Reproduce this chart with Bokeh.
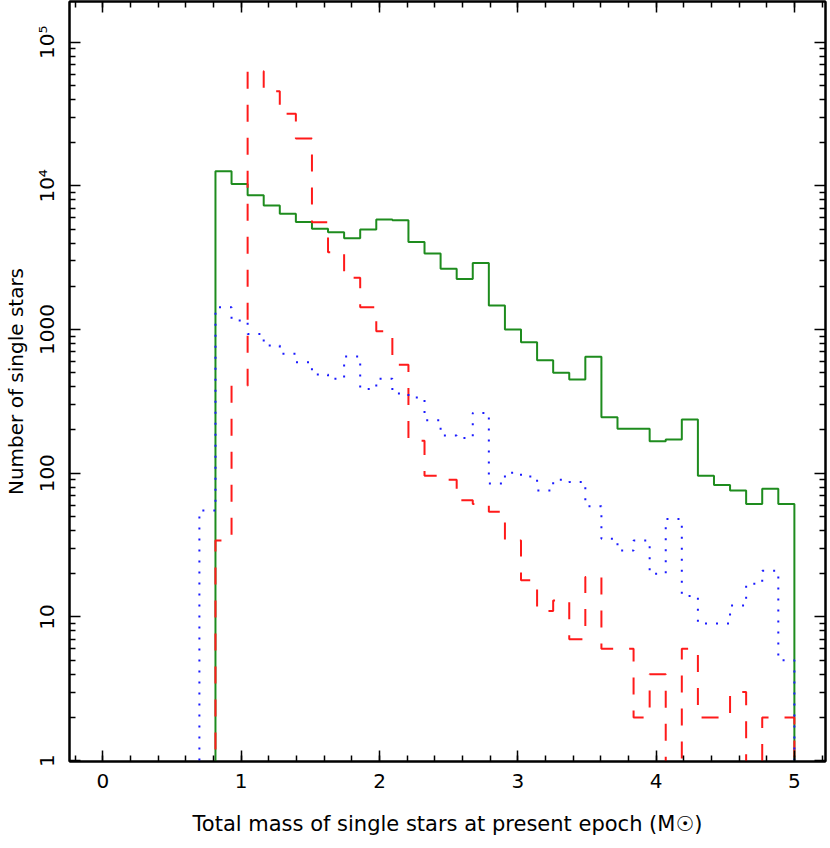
import numpy as np
from bokeh.plotting import figure
from bokeh.models import Range1d, LinearAxis, LogAxis, FixedTicker, CustomJSTickFormatter
from bokeh.embed import file_html
from bokeh.resources import INLINE

# ---- data: histogram of single-star masses, 43 equal bins over 0..5 Msun ----
N_BINS = 43
MASS_MAX = 5.0

green_first_bin = 7
green_counts = [12650, 10300, 8600, 7300, 6390, 5610, 5020, 4760, 4320, 4960,
                5830, 5770, 4070, 3380, 2645, 2250, 2910, 1470, 1000, 816,
                611, 500, 449, 646, 245, 204, 204, 167, 172, 237,
                96, 83, 76, 61, 78, 61]

red_first_bin = 7
red_counts = [34, 407, 62700, 45500, 31700, 21400, 5580, 3450, 2290, 1430,
              973, 570, 168, 96, 90, 65, 61, 54, 34, 18,
              11, 13, 7, 19, 6, 6, 2, 4, 0, 6,
              2, 2, 3, 0, 2, 2]

blue_first_bin = 6
blue_counts = [55, 1430, 1155, 933, 774, 678, 592, 487, 454, 649,
               386, 454, 359, 336, 234, 183, 176, 263, 85, 101,
               95, 76, 90, 87, 59, 35, 29, 34, 20, 48,
               14, 9, 9, 12, 17, 21, 5]

x_ticks = [0, 1, 2, 3, 4, 5]
y_ticks = [1, 10, 100, 1000, 10000, 100000]
y_tick_labels = ["1", "10", "100", "1000", "10\u2074", "10\u2075"]

FONT = "DejaVu Sans"
edges = np.linspace(0.0, MASS_MAX, N_BINS + 1)
FLOOR = 0.05  # drawn level for empty bins (below the axis)

p = figure(frame_width=756, frame_height=760,
           x_range=Range1d(-0.2415, 5.225),
           y_range=Range1d(10 ** -0.006, 10 ** 5.283),
           y_axis_type="log", output_backend="svg", toolbar_location=None,
           min_border_left=62, min_border_right=2, min_border_top=1,
           min_border_bottom=70)
p.xgrid.visible = False
p.ygrid.visible = False
p.outline_line_color = "black"
p.outline_line_width = 2
p.background_fill_color = "white"
p.border_fill_color = "white"


def hist_step(first, counts, **kw):
    n = len(counts)
    xs = [edges[first]] + [edges[first + i] for i in range(n + 1)]
    ys = [FLOOR] + [c if c > 0 else FLOOR for c in counts] + [FLOOR]
    p.step(xs, ys, mode="after", **kw)


hist_step(green_first_bin, green_counts, line_color="#1e8c1e", line_width=2)
hist_step(red_first_bin, red_counts, line_color="#ff1a1a", line_width=2,
          line_dash="17 16")
hist_step(blue_first_bin, blue_counts, line_color="#1a1aff", line_width=2,
          line_dash="2 9")

x_minor = [round(v, 1) for v in np.arange(-0.2, 5.21, 0.2)]
y_minor = [m * 10 ** d for d in range(0, 6) for m in range(2, 10)]

ylab_fmt = CustomJSTickFormatter(args=dict(labels=y_tick_labels),
                                 code="return labels[Math.round(Math.log10(tick))];")
blank_fmt = CustomJSTickFormatter(code="return '';")


def style_axis(ax, labels=True):
    ax.axis_line_width = 2
    ax.axis_line_color = "black"
    ax.major_tick_in = 11
    ax.major_tick_out = 0
    ax.minor_tick_in = 6
    ax.minor_tick_out = 0
    ax.major_tick_line_width = 1.5
    ax.minor_tick_line_width = 1.5
    ax.major_tick_line_color = "black"
    ax.minor_tick_line_color = "black"
    ax.major_label_text_font = FONT
    ax.major_label_text_color = "black"
    ax.axis_label_text_font = FONT
    ax.axis_label_text_font_style = "normal"
    ax.axis_label_text_color = "black"
    if not labels:
        ax.formatter = blank_fmt
        ax.major_label_text_font_size = "0px"
        ax.major_label_standoff = 0
        ax.axis_label_standoff = 0


xa = p.xaxis[0]
xa.ticker = FixedTicker(ticks=x_ticks, minor_ticks=x_minor)
style_axis(xa)
xa.major_label_text_font_size = "20px"
xa.major_label_standoff = 12
xa.axis_label = "Total mass of single stars at present epoch (M\u2609)"
xa.axis_label_text_font_size = "21px"
xa.axis_label_standoff = 21

ya = p.yaxis[0]
ya.ticker = FixedTicker(ticks=y_ticks, minor_ticks=y_minor)
ya.formatter = ylab_fmt
style_axis(ya)
ya.major_label_text_font_size = "20px"
ya.major_label_orientation = "vertical"
ya.major_label_standoff = 10
ya.axis_label = "Number of single stars"
ya.axis_label_text_font_size = "20px"
ya.axis_label_standoff = 5

top = LinearAxis(ticker=FixedTicker(ticks=x_ticks, minor_ticks=x_minor))
style_axis(top, labels=False)
p.add_layout(top, "above")

right = LogAxis(ticker=FixedTicker(ticks=y_ticks, minor_ticks=y_minor))
style_axis(right, labels=False)
p.add_layout(right, "right")

open("out.html", "w").write(file_html(p, INLINE))
